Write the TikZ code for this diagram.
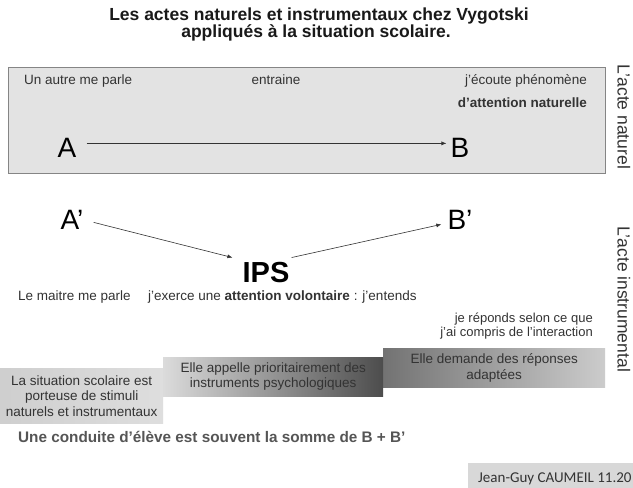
\documentclass[tikz,border=0pt]{standalone}
\usepackage{fontspec}
\setmainfont{Liberation Sans}
\newfontfamily\sigfont{Carlito}
\usetikzlibrary{arrows.meta}
\definecolor{txt}{HTML}{333333}
\definecolor{boxfill}{HTML}{E3E3E3}
\definecolor{boxline}{HTML}{858585}
\definecolor{conduite}{HTML}{555555}
\definecolor{sigfill}{HTML}{D8D8D8}
\begin{document}
\begin{tikzpicture}[x=1pt,y=-1pt,
  lab/.style={inner sep=0pt, text=txt, font=\fontsize{13.5}{14}\selectfont},
  boldlab/.style={inner sep=0pt, text=txt, font=\bfseries\fontsize{13.5}{14}\selectfont},
  smalllab/.style={inner sep=0pt, text=txt, font=\fontsize{13}{13}\selectfont},
  titlestyle/.style={inner sep=0pt, text=black!90, font=\bfseries\fontsize{17.5}{18}\selectfont, anchor=base},
  letter/.style={inner sep=0pt, text=black, font=\fontsize{28}{30}\selectfont, anchor=base},
  conn/.style={draw=black!80, line width=0.6pt, -{Latex[length=5pt,width=4pt]}},
  side/.style={inner sep=0pt, text=txt, font=\fontsize{17.5}{18}\selectfont, rotate=-90},
  stepbox/.style={inner sep=0pt, align=center, text=txt, font=\fontsize{13.5}{15.5}\selectfont, anchor=north west}
]
\useasboundingbox (0,0) rectangle (633,488);
\fill[white] (0,0) rectangle (633,488);

% title
\node[titlestyle] (t1) at (319,20) {Les actes naturels et instrumentaux chez Vygotski};
\node[titlestyle] (t2) at (316,37) {appliqués à la situation scolaire.};

% natural act box
\node[draw=boxline, fill=boxfill, line width=1pt, minimum width=597pt, minimum height=106pt,
      anchor=north west, inner sep=0pt] (natbox) at (8,67) {};
\node[lab, anchor=base west] (autre) at (24,84) {Un autre me parle};
\node[lab, anchor=base] (entraine) at (276,84) {entraine};
\node[lab, anchor=base east] (ecoute) at (587,84) {j’écoute phénomène};
\node[boldlab, anchor=base east] (attnat) at (587,107) {d’attention naturelle};
\node[letter] (A) at (67,157) {A};
\node[letter] (B) at (460,157) {B};
\draw[conn] ([xshift=10pt,yshift=4pt]A.east) -- ([xshift=-4pt,yshift=4pt]B.west);

% side labels
\node[side] (nat) at (624,117) {L’acte naturel};
\node[side] (instr) at (624,299) {L’acte instrumental};

% instrumental act
\node[letter] (Ap) at (72,229) {A’};
\node[letter] (Bp) at (460,229) {B’};
\node[inner sep=0pt, font=\bfseries\fontsize{29}{30}\selectfont, anchor=base] (IPS) at (266,282) {IPS};
\draw[conn] ([xshift=10pt,yshift=-3pt]Ap.east) -- ([xshift=-10pt,yshift=4pt]IPS.north west);
\draw[conn] ([xshift=2pt,yshift=4pt]IPS.north east) -- ([xshift=-6pt,yshift=-5pt]Bp.west);

\node[lab, anchor=base west] (maitre) at (18,300) {Le maitre me parle};
\node[lab, anchor=base west] (exerce) at (148,300) {j’exerce une \textbf{attention volontaire} : j’entends};
\node[smalllab, anchor=base east] (rep1) at (593,322) {je réponds selon ce que};
\node[smalllab, anchor=base east] (rep2) at (593,336) {j’ai compris de l’interaction};

% stepped boxes
\node[stepbox, minimum width=222pt, minimum height=39pt, left color=black!55, right color=black!20] (s3) at (383,348)
  {Elle demande des réponses\\adaptées};
\node[stepbox, minimum width=220pt, minimum height=39pt, left color=black!14, right color=black!70] (s2) at (163,357)
  {Elle appelle prioritairement des\\instruments psychologiques};
\node[stepbox, minimum width=163pt, minimum height=55pt, left color=black!19, right color=black!13] (s1) at (0,368)
  {La situation scolaire est\\porteuse de stimuli\\naturels et instrumentaux};

\node[inner sep=0pt, anchor=base west, text=conduite, font=\bfseries\fontsize{15.3}{16}\selectfont] (cond) at (18,442)
  {Une conduite d’élève est souvent la somme de B + B’};

% signature
\node[anchor=north west, fill=sigfill, minimum width=170pt, minimum height=25pt, inner sep=0pt] (sigbox) at (468,463) {};
\node[anchor=base west, inner sep=0pt, text=txt, font=\sigfont\fontsize{15}{16}\selectfont] (sig) at (478,482) {Jean-Guy CAUMEIL 11.20};
\end{tikzpicture}
\end{document}
